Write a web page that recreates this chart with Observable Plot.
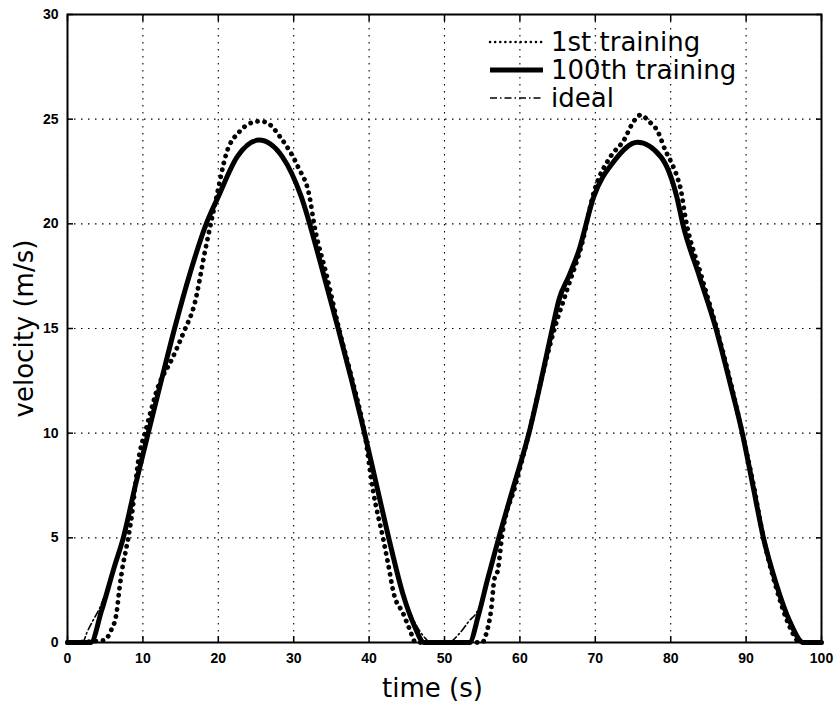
<!DOCTYPE html>
<html>
<head>
<meta charset="utf-8">
<script src="https://cdn.jsdelivr.net/npm/d3@7"></script>
<script src="https://cdn.jsdelivr.net/npm/@observablehq/plot@0.6"></script>
<style>
  html, body { margin: 0; padding: 0; background: #fff; }
  #wrap { position: relative; width: 837px; height: 708px; }
  #legend { position: absolute; left: 0; top: 0; pointer-events: none; }
  #legend text { font-family: "DejaVu Sans", sans-serif; font-size: 26px; fill: #000; }
</style>
</head>
<body>
<div id="wrap">
  <div id="chart"></div>
  <svg id="legend" width="837" height="708">
    <line x1="490" x2="543" y1="42" y2="42" stroke="#000" stroke-width="2.5" stroke-dasharray="0.1 5" stroke-linecap="round"/>
    <text x="551" y="42" dominant-baseline="central">1st training</text>
    <line x1="490" x2="543" y1="70" y2="70" stroke="#000" stroke-width="5"/>
    <text x="551" y="70" dominant-baseline="central">100th training</text>
    <line x1="490" x2="543" y1="98" y2="98" stroke="#000" stroke-width="1.6" stroke-dasharray="7 3 1.5 3"/>
    <text x="551" y="98" dominant-baseline="central">ideal</text>
  </svg>
</div>
<script>
// ---- data ----
const xTicks = [0, 10, 20, 30, 40, 50, 60, 70, 80, 90, 100];
const yTicks = [0, 5, 10, 15, 20, 25, 30];

// 1st training (dotted)
const t1st = [0, 4.8, 5.8, 6.5, 6.9, 7.4, 7.8, 8.5, 9.4, 10.5, 12.0, 13.8, 15.5, 16.8, 18.3, 19.6, 21.1, 22.8, 24.6, 25.6, 26.6, 28.3, 30.6, 32.1, 32.7, 34.4, 36.0, 37.8, 39.4, 40.5, 41.9, 42.5, 43.3, 44.5, 45.3, 46.2,
  55.0, 55.6, 56.2, 56.6, 57.1, 57.6, 59.4, 61.2, 62.8, 64.6, 66.4, 68.2, 69.8, 72.0, 73.8, 75.1, 76.0, 77.1, 78.3, 79.3, 80.0, 80.9, 81.3, 82.0, 84.0, 86.1, 87.9, 89.5, 91.0, 92.3, 94.0, 95.6, 97.2, 100];
const v1st = [0, 0.1, 0.6, 1.4, 2.6, 3.8, 4.5, 6.0, 8.7, 10.3, 12.2, 13.5, 14.9, 16.1, 18.8, 21.0, 23.4, 24.4, 24.85, 24.9, 24.8, 24.1, 22.7, 21.3, 20.0, 17.5, 15.0, 12.5, 10.0, 7.3, 4.9, 3.8, 2.3, 1.4, 0.7, 0,
  0, 0.5, 1.6, 3.0, 3.5, 5.0, 7.5, 10, 12.5, 15, 17, 19, 21.5, 23.2, 24.0, 24.9, 25.2, 24.9, 24.4, 23.5, 23.0, 22.2, 21.7, 20.2, 17.6, 15, 12.5, 10, 7.5, 5, 2.6, 0.9, 0, 0];

// 100th training (solid)
const t100 = [0, 3.1, 4.5, 6.2, 7.4, 9.0, 10.7, 12.5, 14.2, 16.3, 18.4, 20.0, 22.5, 25.4, 28.5, 31.0, 33.5, 35.9, 37.7, 39.4, 41.0, 42.6, 44.5, 46.0, 47.3,
  53.3, 54.5, 55.7, 57.2, 59.2, 61.2, 62.8, 64.3, 65.2, 66.5, 67.8, 69.8, 72.5, 75.6, 78.7, 80.8, 81.6, 83.8, 86.0, 87.8, 89.5, 90.9, 92.3, 94.0, 95.8, 97.6, 100];
const v100 = [0, 0, 1.5, 3.6, 5, 7.5, 10, 12.6, 15, 17.7, 20, 21.3, 23.2, 24.0, 23.2, 21.3, 18.2, 15, 12.5, 10, 7.5, 5, 2.3, 0.8, 0,
  0, 1.3, 3, 5, 7.5, 10, 12.5, 15, 16.4, 17.5, 18.7, 21.3, 23.0, 23.9, 23.2, 21.3, 20, 17.5, 15, 12.5, 10, 7.5, 5, 2.8, 1.0, 0, 0];

// ideal (dash-dot)
const tIdeal = [0, 2.0, 2.6, 3.3, 4.2, 6.2, 7.4, 9.0, 10.7, 12.5, 14.2, 16.3, 18.4, 20.0, 22.5, 25.4, 28.5, 31.0, 33.5, 35.9, 37.7, 39.4, 41.0, 42.6, 44.5, 46.0, 47.0, 48.3,
  50.5, 51.9, 53.2, 54.5, 55.7, 57.2, 59.2, 61.2, 62.8, 64.3, 66.5, 67.8, 69.8, 72.5, 75.6, 78.7, 80.8, 81.6, 83.8, 86.0, 87.8, 89.5, 90.9, 92.3, 94.0, 95.8, 97.8, 100];
const vIdeal = [0, 0, 0.5, 1.0, 1.6, 3.6, 5, 7.5, 10, 12.6, 15, 17.7, 20, 21.3, 23.2, 24.0, 23.2, 21.3, 18.2, 15, 12.5, 10, 7.5, 5, 2.4, 1.0, 0.4, 0,
  0, 0.4, 1.0, 1.6, 3, 5, 7.5, 10, 12.5, 15, 17.5, 18.7, 21.3, 23.0, 23.9, 23.2, 21.3, 20, 17.5, 15, 12.5, 10, 7.5, 5, 2.8, 1.0, 0, 0];

const rows = (ts, vs) => ts.map((t, i) => ({t, v: vs[i]}));
const d1st = rows(t1st, v1st);
const d100 = rows(t100, v100);
const dIdeal = rows(tIdeal, vIdeal);

const tickFont = {fontSize: 14, fontWeight: "bold", fontFamily: "'Liberation Sans', Arial, sans-serif"};

const chart = Plot.plot({
  width: 837, height: 708,
  marginTop: 14, marginRight: 16, marginBottom: 66, marginLeft: 67,
  style: {background: "#fff", color: "#000", fontFamily: "'Liberation Sans', Arial, sans-serif"},
  x: {domain: [0, 100]},
  y: {domain: [0, 30]},
  marks: [
    Plot.gridX(xTicks, {stroke: "#000", strokeOpacity: 1, strokeWidth: 1.1, strokeDasharray: "1.5 5.5"}),
    Plot.gridY(yTicks, {stroke: "#000", strokeOpacity: 1, strokeWidth: 1.1, strokeDasharray: "1.5 5.5"}),
    Plot.line(d1st, {x: "t", y: "v", stroke: "#000", strokeWidth: 4.8, strokeDasharray: "0.1 7", strokeLinecap: "round", curve: "monotone-x"}),
    Plot.line(d100, {x: "t", y: "v", stroke: "#000", strokeWidth: 5, curve: "monotone-x"}),
    Plot.line(dIdeal, {x: "t", y: "v", stroke: "#000", strokeWidth: 1.6, strokeDasharray: "7 3 1.5 3", curve: "monotone-x"}),
    Plot.axisX(xTicks, {anchor: "bottom", tickSize: 0, tickPadding: 11, label: null, ...tickFont}),
    Plot.axisY(yTicks, {anchor: "left", tickSize: 0, tickPadding: 9, label: null, ...tickFont}),
    Plot.axisX(xTicks, {anchor: "bottom", tickSize: -6, strokeWidth: 1.5, tickFormat: () => "", label: null}),
    Plot.axisX(xTicks, {anchor: "top", tickSize: -6, strokeWidth: 1.5, tickFormat: () => "", label: null}),
    Plot.axisY(yTicks, {anchor: "left", tickSize: -6, strokeWidth: 1.5, tickFormat: () => "", label: null}),
    Plot.axisY(yTicks, {anchor: "right", tickSize: -6, strokeWidth: 1.5, tickFormat: () => "", label: null}),
    Plot.frame({stroke: "#000", strokeWidth: 2}),
    Plot.text(["time (s)"], {frameAnchor: "bottom", dy: 46, dx: -12, fontSize: 26, fontFamily: "'DejaVu Sans', sans-serif", textAnchor: "middle", lineAnchor: "middle"}),
    Plot.text(["velocity (m/s)"], {frameAnchor: "left", dx: -43, rotate: -90, fontSize: 26, fontFamily: "'DejaVu Sans', sans-serif", textAnchor: "middle", lineAnchor: "middle"})
  ]
});
document.getElementById("chart").appendChild(chart);
</script>
</body>
</html>
